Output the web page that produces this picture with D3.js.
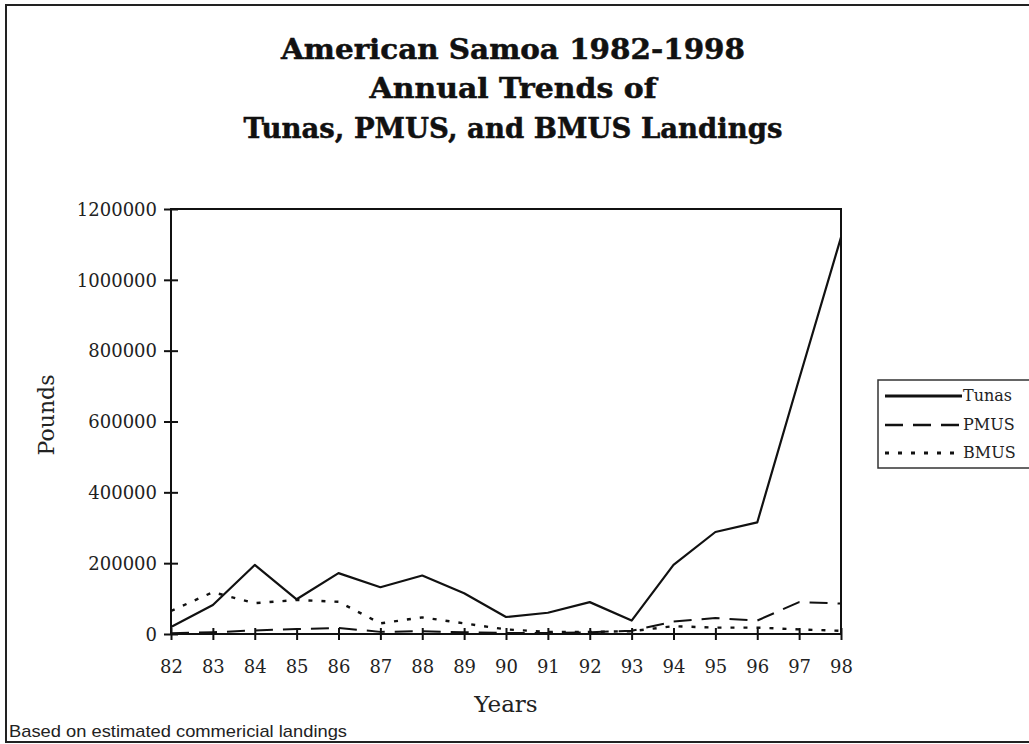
<!DOCTYPE html>
<html><head><meta charset="utf-8">
<script src="https://cdn.jsdelivr.net/npm/d3@7"></script>
<style>body{margin:0;background:#fff;} svg{display:block;}</style>
</head><body>
<svg id="c" width="1029" height="744"></svg>
<script>
const years = [82,83,84,85,86,87,88,89,90,91,92,93,94,95,96,97,98];
const tunas = [20000,82000,195000,98000,172000,132000,165000,115000,48000,60000,90000,38000,195000,288000,315000,720000,1120000];
const pmus  = [2000,5000,10000,14000,17000,6000,8000,5000,3000,3000,5000,9000,35000,45000,38000,90000,86000];
const bmus  = [65000,118000,87000,96000,91000,30000,47000,30000,13000,6000,6000,8000,22000,18000,18000,13000,9000];
const yTicks = [0,200000,400000,600000,800000,1000000,1200000];
const titleLines = ["American Samoa 1982-1998","Annual Trends of","Tunas, PMUS, and BMUS Landings"];
const seriesNames = ["Tunas","PMUS","BMUS"];

const svg = d3.select("#c");
const serif = "'DejaVu Serif', serif";
// page border
svg.append("rect").attr("x",6).attr("y",5).attr("width",1060).attr("height",737)
  .attr("fill","none").attr("stroke","#222").attr("stroke-width",2);

// title
const titleW = [464,287,539];
const titleY = [59,98,138];
titleLines.forEach((t,i)=>{
  svg.append("text").attr("x",513).attr("y",titleY[i]).attr("text-anchor","middle")
    .attr("font-family",serif).attr("font-weight","bold").attr("font-size",27)
    .attr("textLength",titleW[i]).attr("lengthAdjust","spacingAndGlyphs")
    .attr("fill","#111").attr("stroke","#111").attr("stroke-width",0.5).text(t);
});

const L=171, R=841, T=209, B=634;
const x = d3.scaleLinear().domain([82,98]).range([L,R]);
const y = d3.scaleLinear().domain([0,1200000]).range([B,T]);

// frame
svg.append("rect").attr("x",L).attr("y",T).attr("width",R-L).attr("height",B-T)
  .attr("fill","none").attr("stroke","#111").attr("stroke-width",2);

// y axis
const ya = svg.append("g").attr("transform",`translate(${L},0)`)
  .call(d3.axisLeft(y).tickValues(yTicks).tickFormat(d3.format("d")).tickSize(7).tickPadding(7));
ya.select(".domain").remove();
ya.selectAll(".tick line").attr("x1",-7).attr("x2",7).attr("stroke","#111").attr("stroke-width",2);
ya.selectAll(".tick text").attr("font-family",serif).attr("font-size",18).attr("fill","#222").attr("dy","0.35em");

// x axis
const xa = svg.append("g").attr("transform",`translate(0,${B})`)
  .call(d3.axisBottom(x).tickValues(years).tickFormat(d=>String(d)).tickSize(6).tickPadding(20));
xa.select(".domain").remove();
xa.selectAll(".tick line").attr("y1",-6).attr("y2",6).attr("stroke","#111").attr("stroke-width",2);
xa.selectAll(".tick text").attr("font-family",serif).attr("font-size",18).attr("fill","#222");

// axis titles
svg.append("text").attr("x",506).attr("y",712).attr("text-anchor","middle")
  .attr("font-family",serif).attr("font-size",23).attr("fill","#222").text("Years");
svg.append("text").attr("transform","translate(54,415) rotate(-90)").attr("text-anchor","middle")
  .attr("font-family",serif).attr("font-size",22).attr("fill","#222").text("Pounds");

// lines
const line = d3.line().x((d,i)=>x(years[i])).y(d=>y(d));
const styles = [
  {data:tunas, dash:null, w:2.2},
  {data:pmus, dash:"18,10", w:2},
  {data:bmus, dash:"4,9", w:2.4}
];
styles.forEach(s=>{
  svg.append("path").attr("d",line(s.data)).attr("fill","none").attr("stroke","#111")
    .attr("stroke-width",s.w).attr("stroke-dasharray",s.dash).attr("stroke-linejoin","round");
});

// legend
svg.append("rect").attr("x",878).attr("y",380).attr("width",200).attr("height",88)
  .attr("fill","#fff").attr("stroke","#333").attr("stroke-width",1.5);
const legY = [396,425,453];
seriesNames.forEach((n,i)=>{
  svg.append("line").attr("x1",885).attr("x2",962).attr("y1",legY[i]).attr("y2",legY[i])
    .attr("stroke","#111").attr("stroke-width",styles[i].w+0.6).attr("stroke-dasharray",styles[i].dash);
  svg.append("text").attr("x",963).attr("y",legY[i]+5).attr("font-family",serif)
    .attr("font-size",16).attr("fill","#222").text(n);
});

// footer
svg.append("text").attr("x",9).attr("y",737).attr("font-family","'Liberation Sans', Arial, sans-serif")
  .attr("font-size",17).attr("textLength",338).attr("lengthAdjust","spacingAndGlyphs")
  .attr("fill","#222").text("Based on estimated commericial landings");
</script>
</body></html>
